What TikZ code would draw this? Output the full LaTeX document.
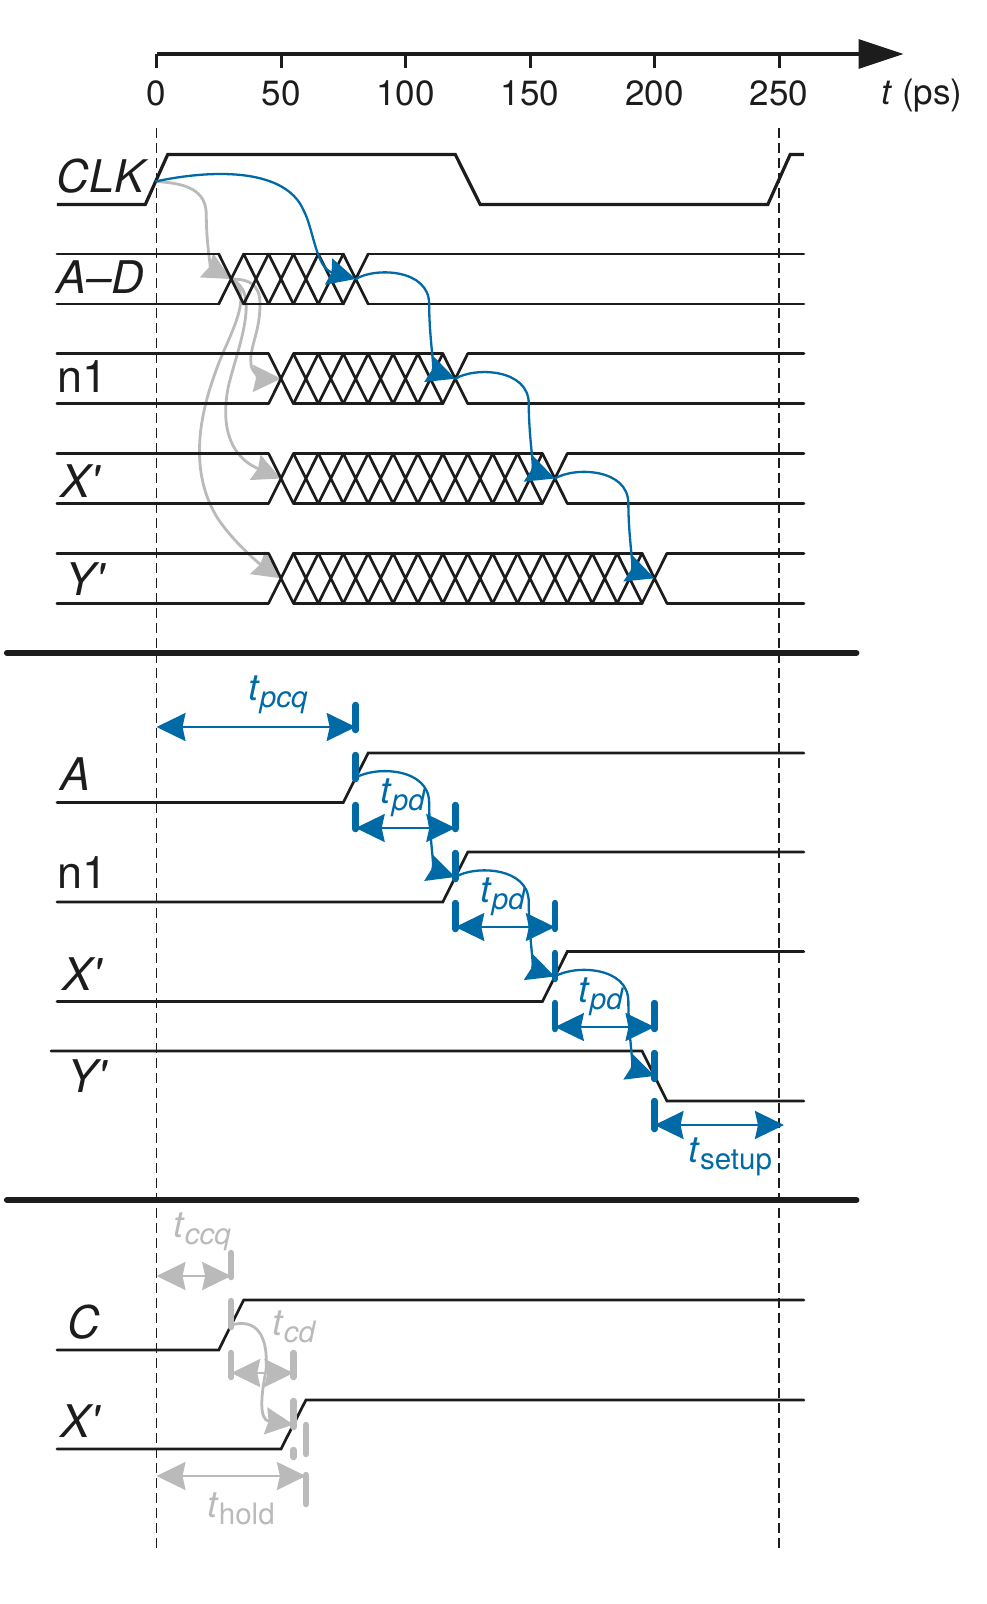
\documentclass[tikz,border=0pt]{standalone}
\usepackage{fontspec}
\newfontfamily\hv{TeX Gyre Heros}
\usetikzlibrary{arrows.meta}
\definecolor{tblue}{RGB}{0,106,166}
\definecolor{tgray}{RGB}{186,186,186}
\definecolor{tblack}{RGB}{28,28,28}
\tikzset{
  sig/.style={draw=tblack, line width=2.7pt, line cap=round, line join=miter},
  clksig/.style={draw=tblack, line width=3.2pt, line join=miter},
  axisline/.style={draw=tblack, line width=3.2pt},
  tickline/.style={draw=tblack, line width=3pt},
  sepline/.style={draw=tblack, line width=6.5pt, line cap=round},
  dashline/.style={draw=tblack, line width=1.3pt, dash pattern=on 10pt off 5pt},
  bhead/.tip={Stealth[length=29pt,width=28pt,inset=3pt]},
  chead/.tip={Stealth[length=28pt,width=27pt,inset=3pt]},
  bdim/.style={draw=tblue, line width=2.3pt, {bhead}-{bhead}},
  gdim/.style={draw=tgray, line width=2.6pt, {bhead}-{bhead}},
  bbar/.style={draw=tblue, line width=6.5pt, line cap=round},
  gbar/.style={draw=tgray, line width=6.5pt, line cap=round},
  bcurve/.style={draw=tblue, line width=2.3pt, -{chead}},
  gcurve/.style={draw=tgray, line width=2.8pt, -{chead}},
  siglab/.style={font=\hv\fontsize{45}{48}\selectfont, anchor=base west, inner sep=0pt, text=tblack},
  ticklab/.style={font=\hv\fontsize{35}{40}\selectfont, anchor=base, inner sep=0pt, text=tblack},
  tlab/.style={font=\hv\fontsize{37}{40}\selectfont, anchor=base west, inner sep=0pt},
}
\newcommand\tsubi[1]{\textit{t}\raisebox{-7pt}{\fontsize{29.5}{32}\selectfont\textit{#1}}}
\newcommand\tsubu[1]{\textit{t}\raisebox{-7pt}{\fontsize{29.5}{32}\selectfont\upshape #1}}
\newcommand\bus[4]{%
  \pgfmathsetmacro\busA{#3-5}%
  \pgfmathsetmacro\busB{#3+5}%
  \pgfmathsetmacro\busC{#4-5}%
  \pgfmathsetmacro\busD{#4+5}%
  \pgfmathtruncatemacro\busN{(#4-#3)/10}%
  \draw[sig] (-40,#1) -- (\busA,#1) (\busB,#1) -- (\busC,#1) (\busD,#1) -- (260,#1);
  \draw[sig] (-40,#2) -- (\busA,#2) (\busB,#2) -- (\busC,#2) (\busD,#2) -- (260,#2);
  \foreach \i in {0,...,\busN} {\draw[sig] ({#3-5+10*\i},#1) -- ({#3+5+10*\i},#2) ({#3-5+10*\i},#2) -- ({#3+5+10*\i},#1);}
}
\newcommand\pdcurve[4]{%
  \draw[bcurve] (#3) .. controls ({#1+8},{#2-12}) and ({#1+29.5},{#2-10}) .. ({#1+29.5},{#2+25})
    .. controls ({#1+29.5},{#2+60}) and ({#1+32},{#2+92.5}) .. (#4);
}
\begin{document}
\begin{tikzpicture}[x=2.49pt,y=-1pt,shift={(156.5pt,0pt)}]
\useasboundingbox (-156.5pt,0pt) rectangle (829.5pt,-1604pt);

% ---- time axis
\coordinate (ax0) at (0,54);
\coordinate (ax1) at (300,54);
\draw[axisline, -{Triangle[length=45pt,width=29pt]}] (ax0) -- (ax1);
\foreach \t in {0,50,...,250} {
  \draw[tickline] (\t,54) -- (\t,68);
  \node[ticklab] (tick\t) at (\t,105) {\t};
}
\node[ticklab, anchor=base west] (tunit) at (291,104) {\textit{t} (ps)};

% ---- dashed reference lines
\draw[dashline] (0,128) -- (0,1550);
\draw[dashline] (250,128) -- (250,1550);

% ---- section 1
\node[siglab] (lclk) at (-40.2,192) {\itshape CLK};
\node[siglab] (lad) at (-40.2,293) {\itshape A–D};
\node[siglab] (ln1) at (-40,392) {n1};
\node[siglab] (lx1) at (-38.5,497) {\itshape X'};
\node[siglab] (ly1) at (-36.5,595) {\itshape Y'};

\coordinate (clk0) at (-0.5,181.5);
\coordinate (ad1) at (30,279);
\coordinate (ad2) at (80,279);
\coordinate (na1) at (50,378.7);
\coordinate (na2) at (120,378.7);
\coordinate (xa1) at (50,478.5);
\coordinate (xa2) at (160,478.5);
\coordinate (ya1) at (50,578.3);
\coordinate (ya2) at (200,578.3);

% gray (contamination) curves
\draw[gcurve] (clk0) .. controls (12,183) and (20,190) .. (20,215) .. controls (20,245) and (22,268) .. (ad1);
\draw[gcurve] (ad1) .. controls (40,279) and (42,290) .. (41.5,310) .. controls (41,335) and (37,350) .. (38,365) .. controls (38.5,374) and (43,378.5) .. (na1);
\draw[gcurve] (ad1) .. controls (42,292) and (33,345) .. (29,385) .. controls (26,420) and (28,455) .. (xa1);
\draw[gcurve] (ad1) .. controls (40,295) and (28,340) .. (24,370) .. controls (18,410) and (12,470) .. (25,520) .. controls (32,545) and (42,565) .. (ya1);

\draw[clksig] (-40,204.5) -- (-4.5,204.5) -- (4.5,154.5) -- (120,154.5) -- (130,204.5) -- (245.5,204.5) -- (254.5,154.5) -- (260,154.5);
\bus{254}{304}{30}{80}
\bus{353.7}{403.7}{50}{120}
\bus{453.5}{503.5}{50}{160}
\bus{553.3}{603.3}{50}{200}

% blue (propagation) curves
\draw[bcurve] (clk0) .. controls (25,168) and (52,170) .. (59,210) .. controls (63,228) and (64,268) .. (ad2);
\pdcurve{80}{279}{ad2}{na2}
\pdcurve{120}{378.7}{na2}{xa2}
\pdcurve{160}{478.5}{xa2}{ya2}

% ---- separator 1
\draw[sepline] (-60,653) -- (281,653);

% ---- section 2
\node[siglab] (la) at (-38.5,790) {\itshape A};
\node[siglab] (ln2) at (-40,888) {n1};
\node[siglab] (lx2) at (-38,990) {\itshape X'};
\node[siglab] (ly2) at (-36,1092) {\itshape Y'};

\draw[sig] (-40,802.5) -- (75,802.5) -- (85,753) -- (260,753);
\draw[sig] (-40,902) -- (115,902) -- (125,852) -- (260,852);
\draw[sig] (-40,1001.5) -- (155,1001.5) -- (165,951.5) -- (260,951.5);
\draw[sig] (-42.4,1051) -- (195,1051) -- (205,1101) -- (260,1101);

\coordinate (A2) at (80,777.75);
\coordinate (N2) at (120,877);
\coordinate (X2) at (160,976.5);
\coordinate (Y2) at (200,1076);

\draw[bbar] (80,705) -- (80,730);
\draw[bbar] (80,755) -- (80,779);
\draw[bbar] (80,805) -- (80,829);
\draw[bbar] (120,805) -- (120,829);
\draw[bbar] (120,853) -- (120,879);
\draw[bbar] (120,903) -- (120,929);
\draw[bbar] (160,903) -- (160,929);
\draw[bbar] (160,953) -- (160,979);
\draw[bbar] (160,1003) -- (160,1029);
\draw[bbar] (200,1003) -- (200,1029);
\draw[bbar] (200,1053) -- (200,1079);
\draw[bbar] (200,1101) -- (200,1129);

\coordinate (pcqL) at (0,727);   \coordinate (pcqR) at (80,727);
\coordinate (pd1L) at (80,828);  \coordinate (pd1R) at (120,828);
\coordinate (pd2L) at (120,927); \coordinate (pd2R) at (160,927);
\coordinate (pd3L) at (160,1027); \coordinate (pd3R) at (200,1027);
\coordinate (suL) at (200,1125); \coordinate (suR) at (252,1125);
\draw[bdim] (pcqL) -- (pcqR);
\draw[bdim] (pd1L) -- (pd1R);
\draw[bdim] (pd2L) -- (pd2R);
\draw[bdim] (pd3L) -- (pd3R);
\draw[bdim] (suL) -- (suR);

\pdcurve{80}{777.75}{A2}{N2}
\pdcurve{120}{877}{N2}{X2}
\pdcurve{160}{976.5}{X2}{Y2}

\node[tlab, text=tblue] (lpcq) at (36.75,700) {\tsubi{pcq}};
\node[tlab, text=tblue] (lpd1) at (89.8,803) {\tsubi{pd}};
\node[tlab, text=tblue] (lpd2) at (129.9,902) {\tsubi{pd}};
\node[tlab, text=tblue] (lpd3) at (169.3,1002) {\tsubi{pd}};
\node[tlab, text=tblue] (lsetup) at (213.5,1162) {\tsubu{setup}};

% ---- separator 2
\draw[sepline] (-60,1200) -- (281,1200);

% ---- section 3
\node[siglab] (lc) at (-36,1338) {\itshape C};
\node[siglab] (lx3) at (-38.5,1437) {\itshape X'};

\draw[sig] (-40,1350) -- (25,1350) -- (35,1300) -- (260,1300);
\draw[sig] (-40,1449) -- (50,1449) -- (60,1400) -- (260,1400);

\coordinate (C3) at (30,1325);
\coordinate (X3) at (55,1424.5);

\draw[gbar] (30,1253) -- (30,1277);
\draw[gbar] (30,1301) -- (30,1327);
\draw[gbar] (30,1353) -- (30,1377);
\draw[gbar] (55,1353) -- (55,1377);
\draw[gbar] (55,1401) -- (55,1427);
\draw[gbar] (55,1450) -- (55,1457);
\draw[gbar] (60,1425) -- (60,1454);
\draw[gbar] (60,1475) -- (60,1504);

\coordinate (ccqL) at (0,1276);  \coordinate (ccqR) at (30,1276);
\coordinate (cdL) at (30,1373);  \coordinate (cdR) at (55,1373);
\coordinate (hoL) at (0,1476);   \coordinate (hoR) at (60,1476);
\draw[gdim] (ccqL) -- (ccqR);
\draw[gdim] (cdL) -- (cdR);
\draw[gdim] (hoL) -- (hoR);

\draw[gcurve] (C3) .. controls (40,1318) and (45,1335) .. (44,1370) .. controls (42,1395) and (41,1420) .. (X3);

\node[tlab, text=tgray] (lccq) at (6.6,1237) {\tsubi{ccq}};
\node[tlab, text=tgray] (lcd) at (46.4,1335) {\tsubi{cd}};
\node[tlab, text=tgray] (lhold) at (20.3,1517) {\tsubu{hold}};
\end{tikzpicture}
\end{document}
